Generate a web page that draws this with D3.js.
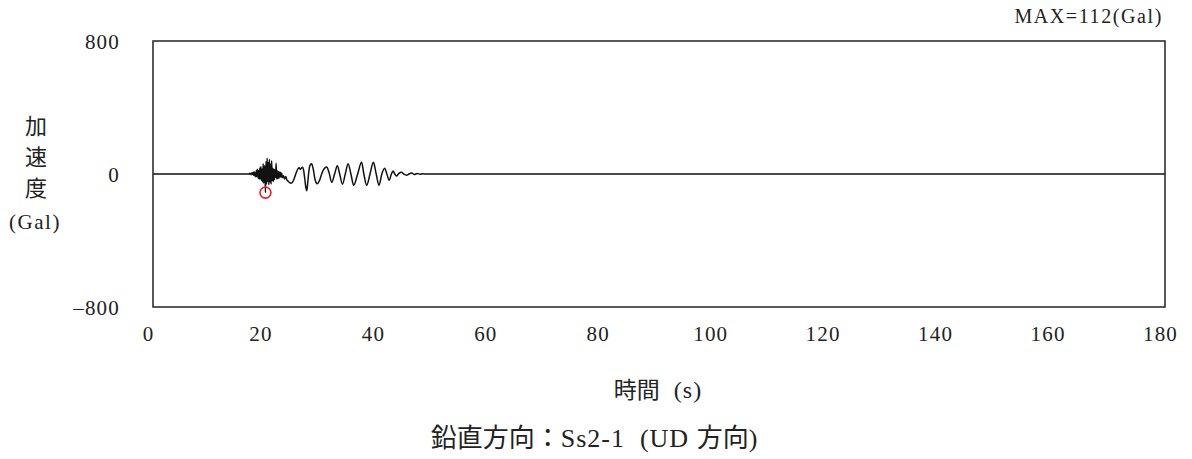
<!DOCTYPE html>
<html><head><meta charset="utf-8">
<script src="https://cdn.jsdelivr.net/npm/d3@7"></script>
<style>
body{margin:0;background:#fff;}
svg{display:block;}
</style></head>
<body>
<svg id="c" width="1192" height="459"></svg>
<script>
// ---- data ----
const xTicks = [0,20,40,60,80,100,120,140,160,180];
const yTicks = [-800,0,800];
const maxLabel = "MAX=112(Gal)";
const peakPoint = [20.0, -112];
// time (s)
const times = [0,17.0,17.2,17.3,17.5,17.6,17.8,17.9,18.0,18.1,18.2,18.3,18.4,18.5,18.6,18.7,18.8,18.9,
 19.0,19.1,19.2,19.3,19.4,19.5,19.6,19.7,19.8,19.9,20.0,20.1,20.2,20.3,20.4,20.5,20.6,20.7,20.8,20.9,
 21.0,21.1,21.2,21.3,21.4,21.5,21.6,21.7,21.8,21.9,22.0,22.1,22.2,22.3,22.4,22.5,22.6,22.7,22.8,22.9,23.0,
 23.2,23.4,23.6,23.8,24.0,24.3,24.6,24.9,25.2,25.5,25.8,26.0,26.2,26.4,26.6,26.8,27.0,27.2,27.35,27.5,27.7,27.9,
 28.2,28.5,28.8,29.2,29.6,30.0,30.4,30.9,31.3,31.8,32.3,32.8,33.2,33.7,34.2,34.7,35.2,35.7,36.4,37.1,37.5,
 38.0,38.6,39.2,39.7,40.2,40.7,41.2,41.6,42.0,42.4,42.7,43.0,43.3,43.7,44.2,44.6,45.1,45.5,46.0,46.5,47.0,47.5,48.0,48.5,180];
// acceleration (Gal)
const accel = [0,0,4,-3,6,-5,10,-8,14,-12,8,-18,22,-15,28,-25,20,-32,
 38,-30,45,-40,30,-48,62,-55,40,50,-112,75,-60,95,-45,70,-65,88,-50,60,
 -62,80,-40,35,-45,30,-35,25,-20,64,-30,20,-28,15,-25,12,-20,10,-18,5,-22,
 -10,-30,-15,-35,-42,-52,-55,-45,-20,10,32,38,28,36,40,20,-30,-85,-100,-60,10,50,
 62,30,-30,-58,-40,0,30,42,10,-50,0,50,0,-62,0,62,0,-68,0,70,0,
 -68,0,70,0,-68,0,35,0,-38,0,18,0,-12,2,10,0,-7,0,6,-3,3,-2,1,0,0];

// ---- chart ----
const svg = d3.select("#c");
const L=153, R=1165, T=41, B=307;
const x = d3.scaleLinear().domain([0,180]).range([L,R]);
const y = d3.scaleLinear().domain([-800,800]).range([B,T]);
const serif = "'Liberation Serif','DejaVu Serif',serif";
const cjk = "'Noto Sans CJK JP','Noto Sans CJK SC',sans-serif";
const ink = "#222";

const data = times.map((t,i)=>[t,accel[i]]);

svg.append("path").datum(data)
  .attr("fill","none").attr("stroke","#111").attr("stroke-width",1.5)
  .attr("d", d3.line().x(d=>x(d[0])).y(d=>y(d[1])).curve(d3.curveMonotoneX));

svg.append("rect").attr("x",L).attr("y",T).attr("width",R-L).attr("height",B-T)
  .attr("fill","none").attr("stroke",ink).attr("stroke-width",1.5);

svg.append("circle").attr("cx",x(peakPoint[0])).attr("cy",y(peakPoint[1])).attr("r",5.5)
  .attr("fill","none").attr("stroke","#e8202a").attr("stroke-width",1.6);

// axes
const ya = svg.append("g").attr("transform",`translate(${L},0)`)
  .call(d3.axisLeft(y).tickValues(yTicks).tickSize(0).tickPadding(33).tickFormat(d=>d<0?"\u2013"+Math.abs(d):String(d)));
ya.select(".domain").remove();
ya.selectAll("text").attr("font-family",serif).attr("font-size",21).attr("letter-spacing",1.2)
  .attr("fill",ink).attr("dy","0.35em");

const xa = svg.append("g").attr("transform",`translate(0,${B})`)
  .call(d3.axisBottom(x).tickValues(xTicks).tickSize(0).tickPadding(19));
xa.select(".domain").remove();
xa.selectAll("text").attr("font-family",serif).attr("font-size",21).attr("letter-spacing",1.2)
  .attr("fill",ink).attr("dx",-5);

// y title
const yt = ["加","速","度"];
yt.forEach((c,i)=>{
  svg.append("text").attr("x",36).attr("y",126+i*31).attr("dy","0.35em").attr("text-anchor","middle")
    .attr("font-family",cjk).attr("font-size",22).attr("fill",ink).text(c);
});
svg.append("text").attr("x",35).attr("y",222).attr("dy","0.35em").attr("text-anchor","middle")
  .attr("font-family",serif).attr("font-size",21).attr("letter-spacing",1.5).attr("fill",ink).text("(Gal)");

// max label
svg.append("text").attr("x",1163).attr("y",16).attr("dy","0.35em").attr("text-anchor","end")
  .attr("font-family",serif).attr("font-size",20).attr("letter-spacing",1.6).attr("fill",ink).text(maxLabel);

// x title
const xt = svg.append("text").attr("x",658).attr("y",392).attr("dy","0.35em").attr("text-anchor","middle")
  .attr("fill",ink);
xt.append("tspan").attr("font-family",cjk).attr("font-size",23).text("時間");
xt.append("tspan").attr("font-family",serif).attr("font-size",24).attr("letter-spacing",1).text("\u00a0\u00a0(s)");

// caption
const cap = svg.append("text").attr("x",594).attr("y",438).attr("dy","0.35em").attr("text-anchor","middle")
  .attr("fill",ink).attr("font-size",26);
cap.append("tspan").attr("font-family",cjk).text("鉛直方向：");
cap.append("tspan").attr("font-family",serif).attr("letter-spacing",1).text("Ss2-1\u00a0\u00a0(UD\u00a0");
cap.append("tspan").attr("font-family",cjk).text("方向");
cap.append("tspan").attr("font-family",serif).text(")");
</script>
</body></html>
